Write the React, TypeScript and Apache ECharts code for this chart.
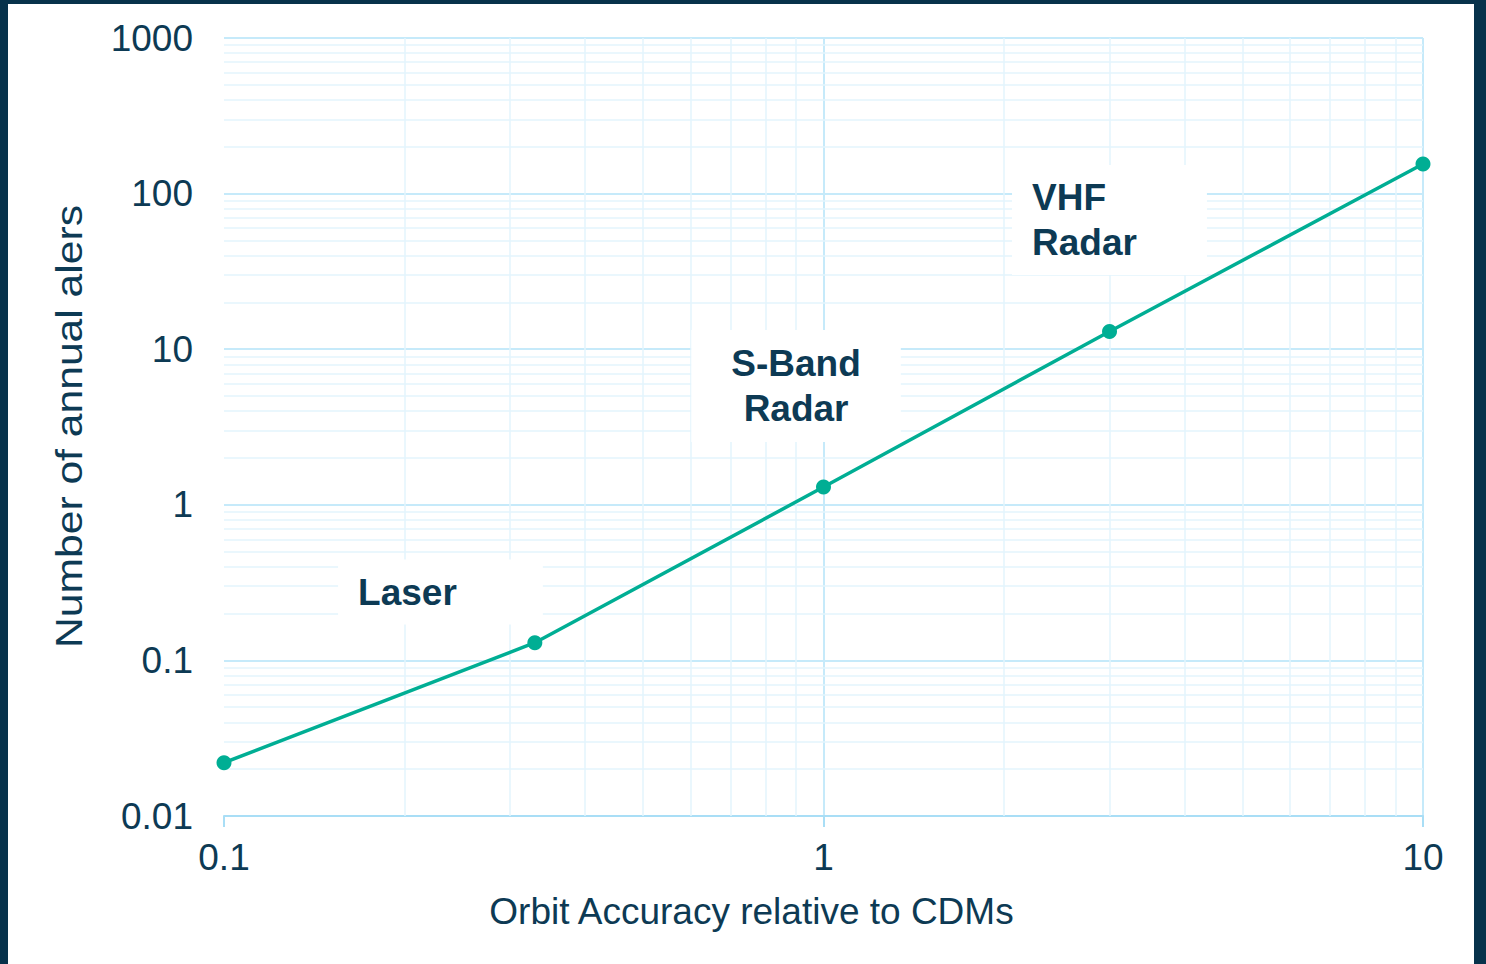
import React, { useEffect, useRef } from 'react';
import * as echarts from 'echarts';

// Data
const accuracy = [0.1, 0.33, 1, 3, 10];
const annualAlerts = [0.022, 0.13, 1.3, 13, 155];

const sensorNames = ['Laser', 'S-Band\nRadar', 'VHF\nRadar'];
const sensorX = [0.155, 0.9, 2.063];
const sensorY = [0.275, 5.8, 67.6];

const xMinor = [0.2, 0.3, 0.4, 0.5, 0.6, 0.7, 0.8, 0.9, 2, 3, 4, 5, 6, 7, 8, 9];
const yMinor = [
  0.02, 0.03, 0.04, 0.05, 0.06, 0.07, 0.08, 0.09,
  0.2, 0.3, 0.4, 0.5, 0.6, 0.7, 0.8, 0.9,
  2, 3, 4, 5, 6, 7, 8, 9,
  20, 30, 40, 50, 60, 70, 80, 90,
  200, 300, 400, 500, 600, 700, 800, 900,
];

const xTitle = 'Orbit Accuracy relative to CDMs';
const yTitle = 'Number of annual alers';

const FRAME = '#07324b';
const TEXT = '#0d3a54';
const TEAL = '#00ae94';
const MAJOR = '#c6eafa';
const MINOR = '#e3f4fd';
const AXIS = '#a9def6';
const FONT = '"Liberation Sans", Arial, sans-serif';
const FS = 37;

const fmt = (v: number) => String(+Number(v).toPrecision(6));

export default function App() {
  const ref = useRef<HTMLDivElement>(null);

  useEffect(() => {
    if (!ref.current) return;
    const chart = echarts.init(ref.current, undefined, { renderer: 'svg' });

    const labelPads = [
      { position: 'right', distance: 0, padding: [10, 86, 10, 20] },
      { position: 'inside', padding: [11, 40, 11, 40] },
      { position: 'right', distance: 0, padding: [10, 70, 10, 20] },
    ];

    chart.setOption({
      animation: false,
      backgroundColor: '#ffffff',
      textStyle: { fontFamily: FONT },
      grid: { left: 216, right: 51, top: 34, bottom: 148 },
      graphic: [
        {
          type: 'text',
          x: 61,
          y: 422.5,
          rotation: Math.PI / 2,
          scaleX: 1.152,
          silent: true,
          style: {
            text: yTitle,
            fontSize: FS,
            fontFamily: FONT,
            fill: TEXT,
            textAlign: 'center',
            textVerticalAlign: 'middle',
          },
        },
      ],
      xAxis: {
        type: 'log',
        logBase: 10,
        min: 0.1,
        max: 10,
        axisLine: { show: true, lineStyle: { color: AXIS, width: 2 } },
        axisTick: { show: true, length: 11, lineStyle: { color: AXIS, width: 2 } },
        axisLabel: { fontSize: FS, color: TEXT, margin: 23, fontFamily: FONT, formatter: fmt },
        splitLine: { show: true, showMinLine: false, lineStyle: { color: MAJOR, width: 2 } },
        name: xTitle,
        nameLocation: 'middle',
        nameGap: 77,
        nameTextStyle: { fontSize: FS, color: TEXT, fontFamily: FONT, padding: [0, 144, 0, 0] },
      },
      yAxis: {
        type: 'log',
        logBase: 10,
        min: 0.01,
        max: 1000,
        axisLine: { show: false },
        axisTick: { show: false },
        axisLabel: { fontSize: FS, color: TEXT, margin: 31, fontFamily: FONT, formatter: fmt },
        splitLine: { show: true, lineStyle: { color: MAJOR, width: 2 } },
      },
      series: [
        {
          type: 'line',
          data: [],
          silent: true,
          z: 1,
          markLine: {
            silent: true,
            animation: false,
            z: 1,
            symbol: ['none', 'none'],
            label: { show: false },
            lineStyle: { color: MINOR, width: 1.5, type: 'solid' },
            emphasis: { disabled: true },
            data: [
              ...xMinor.map((v) => ({ xAxis: v })),
              ...yMinor.map((v) => ({ yAxis: v })),
            ],
          },
        },
        {
          type: 'scatter',
          silent: true,
          z: 3,
          symbolSize: 0,
          itemStyle: { color: TEXT, opacity: 0 },
          label: {
            show: true,
            fontSize: FS,
            fontWeight: 'bold',
            color: TEXT,
            fontFamily: FONT,
            backgroundColor: '#ffffff',
            lineHeight: 45,
            textBorderWidth: 0,
            textBorderColor: 'transparent',
            opacity: 1,
          },
          data: sensorNames.map((name, i) => ({
            value: [sensorX[i], sensorY[i]],
            label: { formatter: name, ...labelPads[i] },
          })),
        },
        {
          type: 'line',
          z: 4,
          data: accuracy.map((x, i) => [x, annualAlerts[i]]),
          symbol: 'circle',
          symbolSize: 15,
          lineStyle: { color: TEAL, width: 3.5 },
          itemStyle: { color: TEAL },
        },
      ],
    });

    return () => chart.dispose();
  }, []);

  return (
    <div style={{ position: 'fixed', left: 0, top: 0, width: 1486, height: 964, background: FRAME }}>
      <div ref={ref} style={{ position: 'absolute', left: 8, top: 4, width: 1466, height: 960 }} />
    </div>
  );
}
